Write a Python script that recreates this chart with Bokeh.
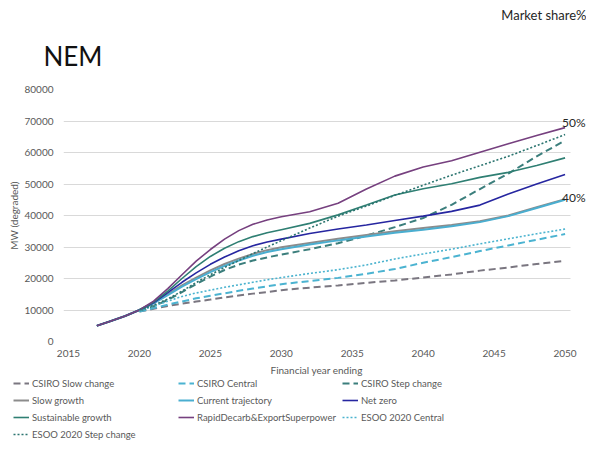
from bokeh.plotting import figure
from bokeh.layouts import column
from bokeh.models import (Range1d, FixedTicker, NumeralTickFormatter, Legend, LegendItem,
                          Label, Title)
from bokeh.embed import file_html
from bokeh.resources import INLINE

# ---- data ----
years = [2017, 2018, 2019, 2020, 2021, 2022, 2023, 2024, 2025, 2026, 2027, 2028, 2029, 2030,
         2032, 2034, 2036, 2038, 2040, 2042, 2044, 2046, 2048, 2050]
forecast_years = [2020, 2021, 2022, 2023, 2024, 2025, 2026, 2027, 2028, 2029, 2030,
                  2032, 2034, 2036, 2038, 2040, 2042, 2044, 2046, 2048, 2050]

csiro_slow = [9500, 10400, 11300, 12000, 12700, 13300, 14000, 14600, 15200, 15700, 16300,
              17100, 17800, 18600, 19400, 20300, 21300, 22500, 23500, 24600, 25600]
csiro_central = [9500, 10600, 11700, 12700, 13700, 14500, 15300, 16100, 16800, 17500, 18200,
                 19200, 20200, 21500, 23000, 25000, 26800, 28700, 30500, 32300, 34100]
csiro_step = [9800, 11200, 13200, 15700, 18200, 20600, 22700, 24400, 25700, 26700, 27600,
              29300, 31200, 33600, 36300, 39200, 43400, 48400, 53300, 58800, 63800]
slow_growth = [5000, 6500, 8100, 10000, 12200, 15000, 17800, 20300, 22600, 24600, 26300, 27800, 29000, 29900,
               31300, 32600, 33800, 35000, 36000, 37000, 38200, 40000, 42600, 45200]
current_trajectory = [5000, 6500, 8100, 10000, 12100, 14700, 17400, 19800, 22000, 24000, 25700, 27200, 28400, 29300,
                      30800, 32100, 33300, 34500, 35500, 36600, 37900, 39800, 42400, 45000]
net_zero = [5000, 6500, 8100, 10000, 12300, 15500, 18800, 21800, 24500, 26800, 28800, 30400, 31600, 32500,
            34300, 35700, 37000, 38400, 39800, 41300, 43300, 46800, 50000, 53000]
sustainable = [5000, 6500, 8100, 10000, 12500, 16000, 20000, 23800, 27000, 29600, 31700, 33300, 34500, 35500,
               37500, 40200, 43300, 46500, 48500, 50100, 52100, 53700, 55900, 58300]
rapid = [5000, 6500, 8100, 10000, 12800, 16800, 21200, 25500, 29200, 32500, 35200, 37200, 38600, 39600,
         41200, 43900, 48400, 52500, 55400, 57400, 60100, 62800, 65400, 67900]
esoo_central = [9800, 11200, 12800, 14300, 15400, 16300, 17200, 18000, 18800, 19600, 20300,
                21600, 22800, 24300, 26200, 27800, 29300, 31000, 32600, 34200, 35700]
esoo_step = [10000, 11500, 13500, 16000, 18700, 21200, 23500, 25700, 27900, 30000, 32000,
             36000, 39800, 43000, 46400, 49600, 52800, 55800, 58800, 62200, 65700]

share_labels = ["50%", "40%"]
share_label_values = [69500, 45700]

y_ticks = [0, 10000, 20000, 30000, 40000, 50000, 60000, 70000, 80000]
x_ticks = [2015, 2020, 2025, 2030, 2035, 2040, 2045, 2050]

FONT = "Lato"
GREY = "#595959"

p = figure(width=586, height=377, output_backend="svg", toolbar_location=None,
           x_range=Range1d(2014.65, 2051.51), y_range=Range1d(0, 80000),
           min_border_left=63, min_border_right=0, min_border_top=89, min_border_bottom=36)
p.frame_align = False
p.outline_line_color = None
p.background_fill_color = "white"
p.border_fill_color = "white"

p.xgrid.grid_line_color = None
p.ygrid.grid_line_color = "#d9d9d9"
p.ygrid.grid_line_width = 1
ygrid = p.ygrid[0]
if "cross_bounds" in ygrid.properties():
    ygrid.cross_bounds = (2014.65, 2050.38)

p.yaxis.ticker = FixedTicker(ticks=y_ticks)
p.xaxis.ticker = FixedTicker(ticks=x_ticks)
p.yaxis.formatter = NumeralTickFormatter(format="0")
for ax in (p.xaxis[0], p.yaxis[0]):
    ax.axis_line_color = None
    ax.major_tick_line_color = None
    ax.minor_tick_line_color = None
    ax.major_tick_in = 0
    ax.major_tick_out = 0
    ax.minor_tick_out = 0
    ax.major_label_text_font = FONT
    ax.major_label_text_font_size = "10px"
    ax.major_label_text_color = GREY
    ax.axis_label_text_font = FONT
    ax.axis_label_text_font_size = "10px"
    ax.axis_label_text_color = GREY
    ax.axis_label_text_font_style = "normal"

p.yaxis.axis_label = "MW (degraded)"
p.yaxis.major_label_standoff = 10
p.yaxis.axis_label_standoff = 1
p.xaxis.major_label_standoff = 8

# titles (the first one sits farthest from the frame)
p.title.text = "Market share%"
p.title.text_font = FONT
p.title.text_font_size = "13px"
p.title.text_font_style = "normal"
p.title.text_color = "#262626"
p.title.align = "right"
p.title.offset = 0
p.title.standoff = -4
p.add_layout(Title(text="NEM", text_font=FONT, text_font_size="26px",
                   text_font_style="normal", text_color="#111111", align="left",
                   offset=-20, standoff=35), "above")

p.add_layout(Title(text="Financial year ending", text_font=FONT, text_font_size="10px",
                   text_font_style="normal", text_color=GREY, align="left",
                   offset=207, standoff=4), "below")

series = [
    ("CSIRO Slow change", forecast_years, csiro_slow, "#7a7680", "7 4", 2),
    ("CSIRO Central", forecast_years, csiro_central, "#4bb3d1", "7 4", 2),
    ("CSIRO Step change", forecast_years, csiro_step, "#3b7e7c", "7 4", 2),
    ("Slow growth", years, slow_growth, "#8c8c8c", "solid", 2),
    ("Current trajectory", years, current_trajectory, "#4aaed0", "solid", 2),
    ("Net zero", years, net_zero, "#2626a0", "solid", 1.6),
    ("Sustainable growth", years, sustainable, "#2f7f73", "solid", 1.6),
    ("RapidDecarb&ExportSuperpower", years, rapid, "#76407f", "solid", 1.6),
    ("ESOO 2020 Central", forecast_years, esoo_central, "#4bb3cf", "2 2", 1.6),
    ("ESOO 2020 Step change", forecast_years, esoo_step, "#2c7570", "2 2", 1.6),
]

for name, xs, ys, color, dash, w in series:
    p.line(xs, ys, line_color=color, line_width=w, line_dash=dash)

for txt, val in zip(share_labels, share_label_values):
    p.add_layout(Label(x=2050.0, y=val, x_offset=-3, text=txt, text_font=FONT,
                       text_font_size="12px", text_color="#262626",
                       text_align="left", text_baseline="middle"))

# ---- legend strip below the chart ----
lg = figure(width=586, height=63, output_backend="svg", toolbar_location=None,
            x_range=Range1d(0, 1), y_range=Range1d(0, 1),
            min_border_left=0, min_border_right=0, min_border_top=0, min_border_bottom=0)
lg.frame_align = False
lg.axis.visible = False
lg.grid.visible = False
lg.outline_line_color = None
lg.border_fill_color = "white"

handles = {}
for name, xs, ys, color, dash, w in series:
    handles[name] = lg.line(xs, ys, line_color=color, line_width=w, line_dash=dash,
                            visible=False)

legend_columns = [
    (["CSIRO Slow change", "Slow growth", "Sustainable growth", "ESOO 2020 Step change"], 13, 0),
    (["CSIRO Central", "Current trajectory", "RapidDecarb&ExportSuperpower"], 178, 17),
    (["CSIRO Step change", "Net zero", "ESOO 2020 Central"], 342, 17),
]
for names, lx, ly in legend_columns:
    leg = Legend(items=[LegendItem(label=n, renderers=[handles[n]]) for n in names],
                 location=(lx, ly), orientation="vertical",
                 label_text_font=FONT, label_text_font_size="9.5px", label_text_color=GREY,
                 glyph_width=16, glyph_height=12, label_height=12, spacing=5,
                 label_standoff=3, padding=0, margin=0, inactive_fill_alpha=0,
                 border_line_color=None, background_fill_alpha=0)
    lg.add_layout(leg, "center")

open("out.html", "w").write(file_html(column(p, lg), INLINE))
